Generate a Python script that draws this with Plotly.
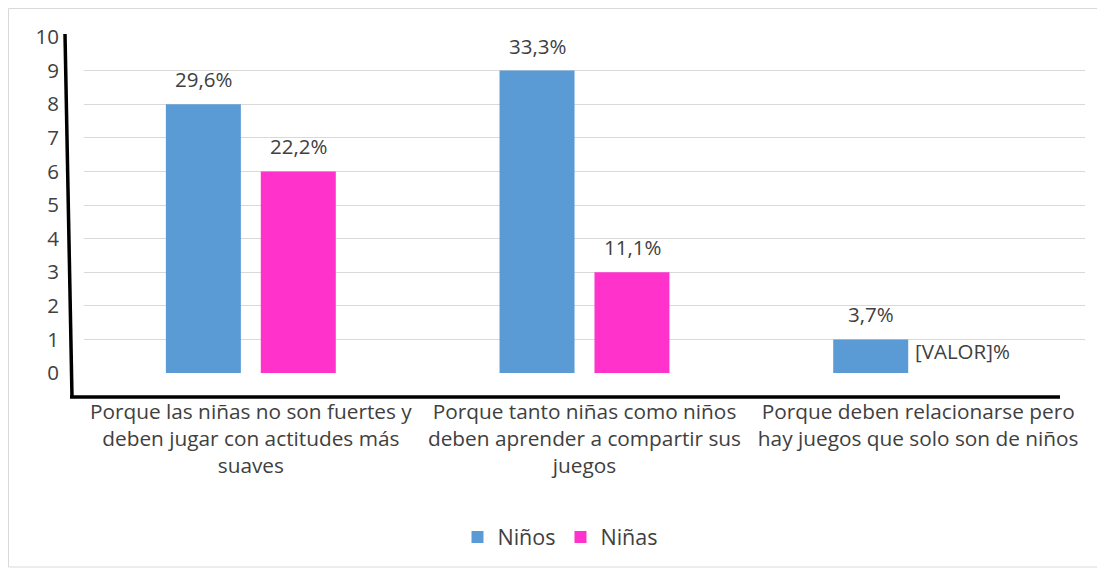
import plotly.graph_objects as go

categories = [
    "Porque las niñas no son fuertes y<br>deben jugar con actitudes más<br>suaves",
    "Porque tanto niñas como niños<br>deben aprender a compartir sus<br>juegos",
    "Porque deben relacionarse pero<br>hay juegos que solo son de niños",
]
ninos = [8, 9, 1]
ninas = [6, 3, 0]
ninos_labels = ["29,6%", "33,3%", "3,7%"]
ninas_labels = ["22,2%", "11,1%", "[VALOR]%"]

# page body adds an 8px offset; work in screen pixels and compensate
O = 8
W, H = 1105 - O, 570 - O
L, R, T, B = 84 - O, 20, 37 - O, 197
pw, ph = W - L - R, H - T - B

def px(x):
    return (x - O - L) / pw

def py(y):
    return (H - B - (y - O)) / ph

font = "Open Sans, Liberation Sans, sans-serif"
txt = "#404040"

fig = go.Figure()
fig.add_trace(go.Bar(x=categories, y=ninos, name="Niños", marker_color="#5B9BD5",
                     marker_line_width=0))
fig.add_trace(go.Bar(x=categories, y=ninas, name="Niñas", marker_color="#FF33CC",
                     marker_line_width=0))

annotations = []
for i, c in enumerate(categories):
    annotations.append(dict(x=c, y=ninos[i], xref="x", yref="y", text=ninos_labels[i],
                            showarrow=False, xshift=-47.5, yshift=25, yanchor="middle",
                            font=dict(size=20.5, color=txt)))
    if ninas[i] > 0:
        annotations.append(dict(x=c, y=ninas[i], xref="x", yref="y", text=ninas_labels[i],
                                showarrow=False, xshift=47.5, yshift=25, yanchor="middle",
                                font=dict(size=20.5, color=txt)))
    else:
        annotations.append(dict(x=c, y=0, xref="x", yref="y", text=ninas_labels[i],
                                showarrow=False, xanchor="left", xshift=-5, yshift=22,
                                yanchor="middle", font=dict(size=20.5, color=txt)))

shapes = [
    dict(type="rect", xref="paper", yref="paper", x0=px(8.5), x1=px(1099), y0=py(567), y1=py(8.5),
         line=dict(color="#d9d9d9", width=1), layer="below"),
    dict(type="line", xref="paper", yref="paper", x0=px(65), y0=py(34), x1=px(72), y1=py(397),
         line=dict(color="black", width=3.5)),
    dict(type="line", xref="paper", yref="paper", x0=px(70), y0=py(397), x1=px(1060), y1=py(397),
         line=dict(color="black", width=3.5)),
]

fig.update_layout(
    width=W, height=H,
    margin=dict(l=L, r=R, t=T, b=B, autoexpand=False),
    paper_bgcolor="white", plot_bgcolor="white",
    font=dict(family=font, color=txt),
    barmode="group", bargap=0.431, bargroupgap=0.21,
    showlegend=True,
    legend=dict(orientation="h", x=px(560), xanchor="center", y=py(537), yanchor="middle",
                font=dict(size=21.5, color=txt), itemwidth=30, tracegroupgap=0),
    shapes=shapes,
    annotations=annotations,
)
fig.update_yaxes(range=[0, 10], dtick=1, showgrid=True, gridcolor="#d9d9d9", gridwidth=1,
                 zeroline=False, showline=False, tickfont=dict(size=20.5, color=txt),
                 ticklabelstandoff=24, ticks="", automargin=False)
fig.update_xaxes(showline=False, tickfont=dict(size=20.8, color=txt), ticks="",
                 ticklabelstandoff=24, tickangle=0, automargin=False)

fig.write_html("out.html")
